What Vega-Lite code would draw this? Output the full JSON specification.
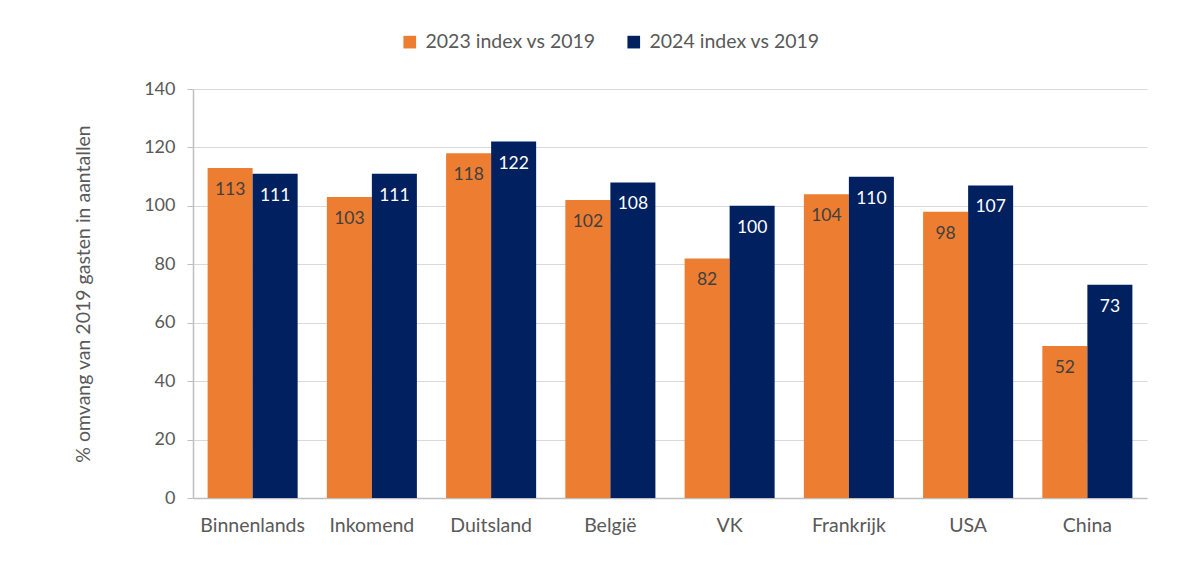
{
  "$schema": "https://vega.github.io/schema/vega-lite/v6.json",
  "width": 954,
  "height": 409,
  "autosize": {"type": "none"},
  "padding": {"left": 193, "top": 89, "right": 39, "bottom": 64},
  "background": "white",
  "data": {"values": [
    {"land": "Binnenlands", "reeks": "2023 index vs 2019", "index": 113},
    {"land": "Binnenlands", "reeks": "2024 index vs 2019", "index": 111},
    {"land": "Inkomend", "reeks": "2023 index vs 2019", "index": 103},
    {"land": "Inkomend", "reeks": "2024 index vs 2019", "index": 111},
    {"land": "Duitsland", "reeks": "2023 index vs 2019", "index": 118},
    {"land": "Duitsland", "reeks": "2024 index vs 2019", "index": 122},
    {"land": "België", "reeks": "2023 index vs 2019", "index": 102},
    {"land": "België", "reeks": "2024 index vs 2019", "index": 108},
    {"land": "VK", "reeks": "2023 index vs 2019", "index": 82},
    {"land": "VK", "reeks": "2024 index vs 2019", "index": 100},
    {"land": "Frankrijk", "reeks": "2023 index vs 2019", "index": 104},
    {"land": "Frankrijk", "reeks": "2024 index vs 2019", "index": 110},
    {"land": "USA", "reeks": "2023 index vs 2019", "index": 98},
    {"land": "USA", "reeks": "2024 index vs 2019", "index": 107},
    {"land": "China", "reeks": "2023 index vs 2019", "index": 52},
    {"land": "China", "reeks": "2024 index vs 2019", "index": 73}
  ]},
  "encoding": {
    "x": {
      "field": "land", "type": "nominal", "sort": null,
      "scale": {"paddingInner": 0.245, "paddingOuter": 0.1225},
      "axis": {"title": null, "labelAngle": 0, "labelFont": "Lato", "labelFontSize": 19.5, "labelColor": "#595959", "labelPadding": 18, "ticks": false, "domainColor": "#BFBFBF", "domainWidth": 1.5}
    },
    "xOffset": {"field": "reeks", "type": "nominal", "scale": {"paddingInner": 0, "paddingOuter": 0}},
    "y": {
      "field": "index", "type": "quantitative",
      "scale": {"domain": [0, 140]},
      "axis": {"values": [0, 20, 40, 60, 80, 100, 120, 140], "title": "% omvang van 2019 gasten in aantallen", "titleFont": "Lato", "titleFontSize": 19.5, "titleFontWeight": "normal", "titleColor": "#595959", "titlePadding": 50, "labelFont": "Lato", "labelFontSize": 18, "labelColor": "#595959", "labelPadding": 12, "tickColor": "#BFBFBF", "tickSize": 6, "domainColor": "#BFBFBF", "domainWidth": 1.5, "gridColor": "#D9D9D9", "gridWidth": 1.2}
    }
  },
  "layer": [
    {
      "mark": {"type": "bar"},
      "encoding": {
        "color": {
          "field": "reeks", "type": "nominal",
          "scale": {"domain": ["2023 index vs 2019", "2024 index vs 2019"], "range": ["#ED7D31", "#002060"]},
          "legend": {"title": null, "orient": "none", "legendX": 207, "legendY": -57, "direction": "horizontal", "symbolType": "square", "symbolSize": 160, "symbolStrokeWidth": 0, "labelFont": "Lato", "labelFontSize": 19.5, "labelColor": "#595959", "labelLimit": 400, "columnPadding": 28, "labelOffset": 6}
        }
      }
    },
    {
      "mark": {"type": "text", "baseline": "middle", "dy": 22, "font": "Lato", "fontSize": 17.5},
      "encoding": {
        "text": {"field": "index", "type": "quantitative"},
        "color": {"condition": {"test": "datum.reeks === '2023 index vs 2019'", "value": "#404040"}, "value": "white"}
      }
    }
  ],
  "config": {"view": {"stroke": null}}
}
